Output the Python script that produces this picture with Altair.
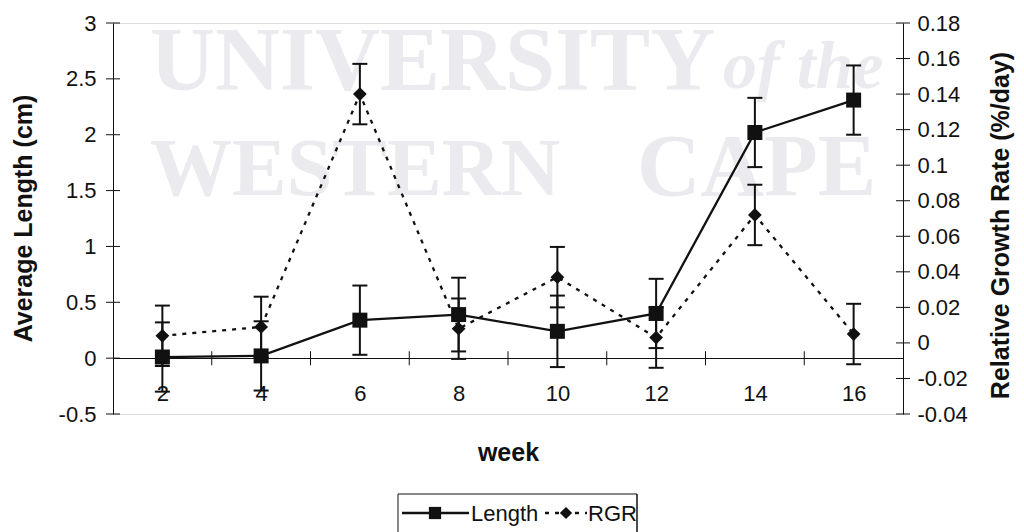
import altair as alt
import pandas as pd

# ---------------- data ----------------
weeks = [2, 4, 6, 8, 10, 12, 14, 16]
length = [0.01, 0.02, 0.34, 0.39, 0.24, 0.40, 2.02, 2.31]
length_err = [0.31, 0.31, 0.31, 0.33, 0.32, 0.31, 0.31, 0.31]
rgr = [0.004, 0.009, 0.140, 0.008, 0.037, 0.003, 0.072, 0.005]
rgr_err = [0.017, 0.017, 0.017, 0.017, 0.017, 0.017, 0.017, 0.017]

week_minor_ticks = [3, 5, 7, 9, 11, 13, 15]
left_ticks = [-0.5, 0, 0.5, 1, 1.5, 2, 2.5, 3]
right_ticks = [-0.04, -0.02, 0, 0.02, 0.04, 0.06, 0.08, 0.1, 0.12, 0.14, 0.16, 0.18]
x_domain = [1, 17]
left_domain = [-0.5, 3]
right_domain = [-0.04, 0.18]

legend_labels = ["Length", "RGR"]
watermark_words = ["UNIVERSITY", "of the", "WESTERN", "CAPE"]

# ---------------- tables ----------------
df = pd.DataFrame({"week": weeks, "length": length, "len_err": length_err,
                   "rgr": rgr, "rgr_err": rgr_err})
df["len_lo"] = df["length"] - df["len_err"]
df["len_hi"] = df["length"] + df["len_err"]
df["rgr_lo"] = df["rgr"] - df["rgr_err"]
df["rgr_hi"] = df["rgr"] + df["rgr_err"]

minor_df = pd.DataFrame({"week": week_minor_ticks, "v": [0] * len(week_minor_ticks)})
lt_df = pd.DataFrame({"week": [x_domain[0]] * len(left_ticks), "v": left_ticks})
rt_df = pd.DataFrame({"week": [x_domain[1]] * len(right_ticks), "v": right_ticks})
one = pd.DataFrame({"a": [0]})

FONT = "Liberation Sans"
INK = "#111111"
LABEL_SIZE = 22
TITLE_SIZE = 25

xs = alt.Scale(domain=x_domain, nice=False, zero=False)
ls = alt.Scale(domain=left_domain, nice=False, zero=False)
rs = alt.Scale(domain=right_domain, nice=False, zero=False)

x_axis = alt.Axis(values=weeks, labelExpr="'' + datum.value", offset=-56,
                  ticks=False, tickSize=0, grid=False, domainColor=INK, domainWidth=1,
                  labelPadding=25, labelFontSize=LABEL_SIZE, labelColor=INK, labelFont=FONT,
                  labelFlush=False, labelOverlap=False,
                  title="week", titleFontSize=TITLE_SIZE, titleFontWeight="bold", titleFont=FONT,
                  titleColor=INK, titleY=94, titleBaseline="middle")
left_axis = alt.Axis(values=left_ticks, labelExpr="'' + datum.value", ticks=False, tickSize=0,
                     grid=False, domainColor=INK, domainWidth=1, labelPadding=17,
                     labelFontSize=LABEL_SIZE, labelColor=INK, labelFont=FONT, labelFlush=False,
                     labelOverlap=False,
                     title="Average Length (cm)", titleFontSize=TITLE_SIZE, titleFontWeight="bold",
                     titleFont=FONT, titleColor=INK, titleAngle=270, titleX=-90, titleY=195,
                     titleAlign="center", titleBaseline="middle")
right_axis = alt.Axis(orient="right", values=right_ticks, labelExpr="'' + datum.value",
                      ticks=False, tickSize=0, grid=False, domainColor=INK, domainWidth=1,
                      labelPadding=14, labelFontSize=LABEL_SIZE, labelColor=INK, labelFont=FONT,
                      labelFlush=False, labelOverlap=False,
                      title="Relative Growth Rate (%/day)", titleFontSize=TITLE_SIZE,
                      titleFontWeight="bold", titleFont=FONT, titleColor=INK, titleAngle=270,
                      titleX=97, titleY=202, titleAlign="center", titleBaseline="middle")


def X():
    return alt.X("week:Q", scale=xs, axis=x_axis)


def YL(field):
    return alt.Y(f"{field}:Q", scale=ls, axis=left_axis)


def YR(field):
    return alt.Y(f"{field}:Q", scale=rs, axis=right_axis)


# ---------------- watermark ----------------
wm_df = pd.DataFrame({"t": watermark_words})
wm_pos = [(37, 67, 90, "normal"), (610, 65, 68, "italic"), (37, 172, 82, "normal"), (524, 172, 88, "normal")]
wm_layers = []
for i, w in enumerate(watermark_words):
    x0, y0, fs, st = wm_pos[i]
    wm_layers.append(
        alt.Chart(wm_df[wm_df.t == w]).mark_text(
            font="Liberation Serif", fontSize=fs, fontWeight="bold", fontStyle=st,
            color="#ebebef", align="left", baseline="alphabetic"
        ).encode(x=alt.value(x0), y=alt.value(y0), text="t:N")
    )

# ---------------- left (Length) group ----------------
len_line = alt.Chart(df).mark_line(color=INK, strokeWidth=2.3).encode(x=X(), y=YL("length"))
len_bar = alt.Chart(df).mark_rule(color=INK, strokeWidth=2).encode(x=X(), y=YL("len_lo"), y2="len_hi:Q")
len_cap_lo = alt.Chart(df).mark_tick(color=INK, orient="horizontal", size=15, thickness=2, opacity=1).encode(x=X(), y=YL("len_lo"))
len_cap_hi = alt.Chart(df).mark_tick(color=INK, orient="horizontal", size=15, thickness=2, opacity=1).encode(x=X(), y=YL("len_hi"))
len_pts = alt.Chart(df).mark_point(shape="square", filled=True, size=225, color=INK, opacity=1).encode(x=X(), y=YL("length"))
minor = alt.Chart(minor_df).mark_tick(color=INK, orient="vertical", size=14, thickness=1, opacity=1).encode(x=X(), y=YL("v"))
lticks = alt.Chart(lt_df).mark_tick(color=INK, orient="horizontal", size=14, thickness=1, opacity=1).encode(x=X(), y=YL("v"))

left_group = alt.layer(*wm_layers, minor, lticks, len_line, len_bar, len_cap_lo, len_cap_hi, len_pts)

# ---------------- right (RGR) group ----------------
rgr_line = alt.Chart(df).mark_line(color=INK, strokeWidth=2.3, strokeDash=[4, 6]).encode(x=X(), y=YR("rgr"))
rgr_bar = alt.Chart(df).mark_rule(color=INK, strokeWidth=2).encode(x=X(), y=YR("rgr_lo"), y2="rgr_hi:Q")
rgr_cap_lo = alt.Chart(df).mark_tick(color=INK, orient="horizontal", size=15, thickness=2, opacity=1).encode(x=X(), y=YR("rgr_lo"))
rgr_cap_hi = alt.Chart(df).mark_tick(color=INK, orient="horizontal", size=15, thickness=2, opacity=1).encode(x=X(), y=YR("rgr_hi"))
rgr_pts = alt.Chart(df).mark_point(shape="diamond", filled=True, size=190, color=INK, opacity=1).encode(x=X(), y=YR("rgr"))
rticks = alt.Chart(rt_df).mark_tick(color=INK, orient="horizontal", size=14, thickness=1, opacity=1).encode(x=X(), y=YR("v"))

right_group = alt.layer(rticks, rgr_line, rgr_bar, rgr_cap_lo, rgr_cap_hi, rgr_pts)

# ---------------- legend (drawn below plot) ----------------
box_top = alt.Chart(one).mark_rule(color=INK, strokeWidth=1).encode(
    x=alt.value(285), x2=alt.value(524), y=alt.value(471))
box_left = alt.Chart(one).mark_rule(color=INK, strokeWidth=1).encode(
    x=alt.value(285), y=alt.value(471), y2=alt.value(520))
box_right = alt.Chart(one).mark_rule(color=INK, strokeWidth=1.5).encode(
    x=alt.value(524), y=alt.value(471), y2=alt.value(520))
leg_solid = alt.Chart(one).mark_rule(color=INK, strokeWidth=2.3).encode(
    x=alt.value(289), x2=alt.value(356), y=alt.value(490))
leg_sq = alt.Chart(one).mark_point(shape="square", filled=True, size=150, color=INK, opacity=1).encode(
    x=alt.value(322), y=alt.value(490))
leg_dash = alt.Chart(one).mark_rule(color=INK, strokeWidth=2.3, strokeDash=[4, 6]).encode(
    x=alt.value(432), x2=alt.value(474), y=alt.value(490))
leg_dia = alt.Chart(one).mark_point(shape="diamond", filled=True, size=150, color=INK, opacity=1).encode(
    x=alt.value(453), y=alt.value(490))
lab_df = pd.DataFrame({"t": legend_labels})
leg_t1 = alt.Chart(lab_df[lab_df.t == legend_labels[0]]).mark_text(
    font=FONT, fontSize=22, color=INK, align="left", baseline="middle").encode(
    x=alt.value(358), y=alt.value(491), text="t:N")
leg_t2 = alt.Chart(lab_df[lab_df.t == legend_labels[1]]).mark_text(
    font=FONT, fontSize=22, color=INK, align="left", baseline="middle").encode(
    x=alt.value(475), y=alt.value(491), text="t:N")
legend = alt.layer(box_top, box_left, box_right, leg_solid, leg_sq, leg_dash, leg_dia, leg_t1, leg_t2)

chart = alt.layer(left_group, right_group, legend).resolve_scale(y="independent").properties(
    width=790, height=391,
    autosize=alt.AutoSizeParams(type="none"),
    padding={"left": 105, "top": 15, "right": 113, "bottom": 118},
    background="white",
).configure_view(stroke=None).configure(font=FONT)

chart.save("out.html", embed_options={"renderer": "svg", "actions": False})
